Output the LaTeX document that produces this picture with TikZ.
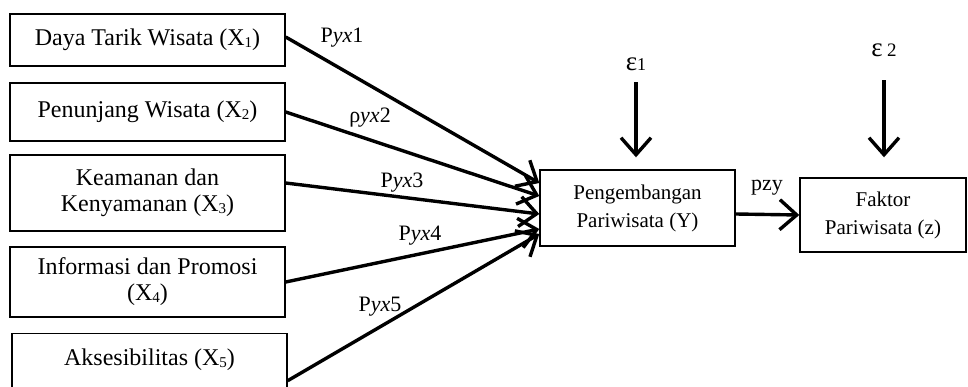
\documentclass[tikz,border=0pt]{standalone}
\usepackage{fontspec}
\setmainfont{Liberation Serif}
\usetikzlibrary{arrows.meta}
\newcommand{\idx}[1]{\raisebox{-1.5pt}{\fontsize{15}{15}\selectfont #1}}
\tikzset{
	var/.style={draw,line width=1.4pt,inner sep=0pt,minimum width=275pt,align=center,
		font=\rmfamily\fontsize{24}{26}\selectfont},
	endo/.style={draw,line width=1.4pt,inner sep=0pt,align=center,
		font=\rmfamily\fontsize{21}{28}\selectfont},
	coef/.style={font=\rmfamily\fontsize{22}{24}\selectfont,inner sep=0pt},
	arr/.style={line width=3.4pt,-{Straight Barb[length=17pt,width=30pt,line width=3.4pt]}}
}
\begin{document}
\begin{tikzpicture}[x=1pt,y=-1pt]
	\useasboundingbox (0,0) rectangle (968,387);
	\clip (0,0) rectangle (968,387);
	% exogenous variables
	\node[var,minimum height=52pt] (x1) at (147.5,40) {Daya Tarik Wisata (X\idx{1})};
	\node[var,minimum height=58pt] (x2) at (147.5,112) {Penunjang Wisata (X\idx{2})};
	\node[var,minimum height=76pt] (x3) at (147.5,193) {Keamanan dan\\Kenyamanan (X\idx{3})};
	\node[var,minimum height=70pt] (x4) at (147.5,282) {Informasi dan Promosi\\(X\idx{4})};
	\node[var,anchor=north,text height=32pt,text depth=62pt] (x5) at (149.5,333) {Aksesibilitas (X\idx{5})};
	% endogenous variables
	\node[endo,minimum width=195pt,minimum height=76pt] (y) at (637.5,208) {Pengembangan\\Pariwisata (Y)};
	\node[endo,minimum width=166pt,minimum height=74pt] (z) at (883,215) {Faktor\\Pariwisata (z)};
	% residuals
	\node[font=\rmfamily\fontsize{27}{27}\selectfont] (e1) at (636,64) {ε{\fontsize{18}{18}\selectfont 1}};
	\node[font=\rmfamily\fontsize{27}{27}\selectfont] (e2) at (884,50) {ε\,{\fontsize{19}{19}\selectfont 2}};
	\draw[arr,shorten <=8pt,shorten >=12pt] (e1.south) -- (e1.south |- y.north);
	\draw[arr,shorten <=20pt,shorten >=20pt] (e2.south) -- (e2.south |- z.north);
	% paths
	\draw[arr] ([yshift=3pt]x1.east) -- ([yshift=25pt]y.west);
	\draw[arr] (x2.east) -- ([yshift=12pt]y.west);
	\draw[arr] ([yshift=10pt]x3.east) -- ([yshift=-6pt]y.west);
	\draw[arr] (x4.east) -- ([yshift=-21pt]y.west);
	\draw[arr] (x5.east) -- ([yshift=-26pt]y.west);
	\draw[arr] ([yshift=-6pt]y.east) -- (z.west);
	\node[coef] (p1) at (342,38) {P\textit{yx}1};
	\node[coef] (p2) at (370,118) {ρ\textit{yx}2};
	\node[coef] (p3) at (402,183) {P\textit{yx}3};
	\node[coef] (p4) at (420,236) {P\textit{yx}4};
	\node[coef] (p5) at (380,307) {P\textit{yx}5};
	\node[coef] (pzy) at (767,188) {pzy};
\end{tikzpicture}
\end{document}
